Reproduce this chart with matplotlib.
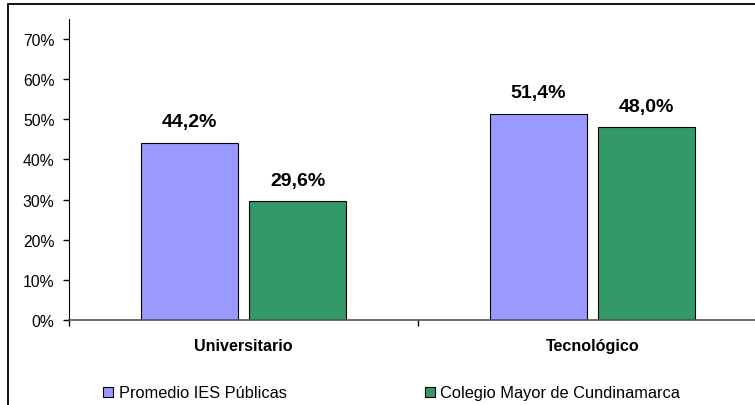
import matplotlib.pyplot as plt
from matplotlib.patches import Rectangle
import numpy as np

plt.rcParams['font.family'] = ['Liberation Sans', 'DejaVu Sans']

# --- DATA ---
categories = ['Universitario', 'Tecnológico']
series_names = ['Promedio IES Públicas', 'Colegio Mayor de Cundinamarca']
promedio_ies = [44.2, 51.4]
colegio_mayor = [29.6, 48.0]
y_ticks = [0, 10, 20, 30, 40, 50, 60, 70]

COLORS = ['#9999FF', '#339966']

W, H = 755, 406
fig = plt.figure(figsize=(W / 100, H / 100), dpi=100)
ax = fig.add_axes([69 / W, 85 / H, 698 / W, 301 / H])

x = np.arange(len(categories))
bar_w = 0.28
offsets = [-0.155, 0.155]

for vals, off, color, name in zip([promedio_ies, colegio_mayor], offsets, COLORS, series_names):
    bars = ax.bar(x + off, vals, width=bar_w, color=color, edgecolor='black',
                  linewidth=0.8, label=name)
    for b, v in zip(bars, vals):
        ax.annotate(f"{v:.1f}%".replace('.', ','), (b.get_x() + b.get_width() / 2, v),
                    xytext=(0, 9), textcoords='offset points', ha='center', va='bottom',
                    fontsize=14, fontweight='bold')

ax.set_xlim(-0.5, len(categories) - 0.5)
ax.set_ylim(0, 75)

ax.set_yticks(y_ticks)
ax.set_yticklabels([f"{t}%" for t in y_ticks], fontsize=11.3)
ax.tick_params(axis='y', length=4.5, width=1, pad=6, color='black')

# category boundaries as major ticks, labels on minor ticks
ax.set_xticks(np.arange(len(categories) + 1) - 0.5)
ax.set_xticklabels([])
ax.tick_params(axis='x', which='major', length=4.5, width=1, color='black')
ax.set_xticks(x, minor=True)
ax.set_xticklabels(categories, minor=True, fontsize=11.6, fontweight='bold')
ax.tick_params(axis='x', which='minor', length=0, pad=13)

ax.spines['top'].set_visible(False)
ax.spines['right'].set_visible(False)
ax.spines['left'].set_color('black')
ax.spines['bottom'].set_color('#555555')
ax.spines['bottom'].set_linewidth(1.2)

# outer chart border
fig.patches.append(Rectangle((8 / W, -0.1), 2, (H - 5) / H + 0.1, transform=fig.transFigure,
                             fill=False, edgecolor='black', linewidth=1.3))

fig.legend(loc='center left', bbox_to_anchor=(103 / W, 12 / H), ncol=2, frameon=False,
           fontsize=11.8, handlelength=0.6, handleheight=0.6, handletextpad=0.35,
           columnspacing=8.45, borderpad=0, borderaxespad=0)

fig.savefig('out.png', dpi=100)
